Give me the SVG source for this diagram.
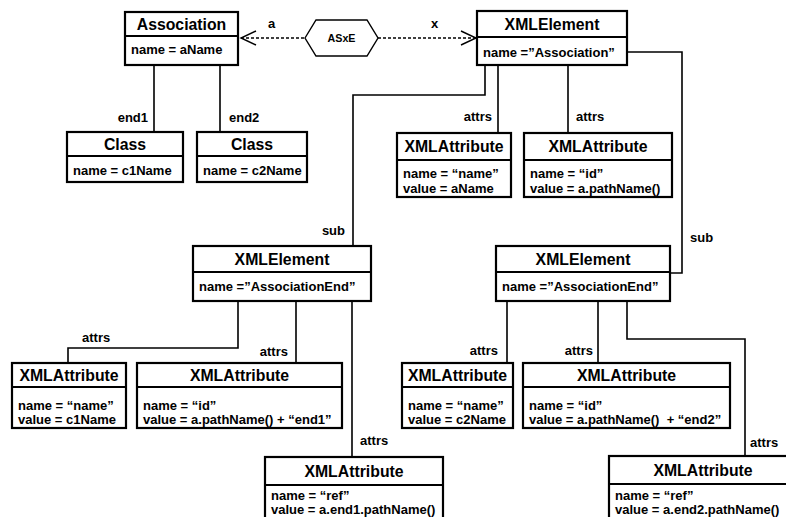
<svg xmlns="http://www.w3.org/2000/svg" width="786" height="517" viewBox="0 0 786 517">
<style>
.box{fill:#fff;stroke:#000;stroke-width:2.2}
.div{stroke:#000;stroke-width:1.8}
.ttl{font-family:"Liberation Sans",Arial,sans-serif;font-weight:bold;font-size:15.8px;text-anchor:middle;fill:#000}
.att{font-family:"Liberation Sans",Arial,sans-serif;font-weight:bold;font-size:13px;fill:#000;white-space:pre}
.lbl{font-family:"Liberation Sans",Arial,sans-serif;font-weight:bold;font-size:13px;fill:#000}
.end{text-anchor:end}
.con{fill:none;stroke:#000;stroke-width:1.6}
.dot{fill:none;stroke:#000;stroke-width:1.4;stroke-dasharray:3 2}
.hd{fill:none;stroke:#000;stroke-width:1.4}
</style>
<g id="connectors">
<path class="con" d="M154 65V132M220 65V132"/>
<path class="con" d="M485 65V95H353V246"/>
<path class="con" d="M498 65V133M568 65V133"/>
<path class="con" d="M627 52H682V273H670"/>
<path class="con" d="M238 301V348H68V363"/>
<path class="con" d="M296 301V363M352 301V457"/>
<path class="con" d="M507 301V363M598 301V363"/>
<path class="con" d="M627 301V339H745V456"/>
<path class="dot" d="M241 38H305M378 38H476"/>
<path class="hd" d="M256 31L241 38L256 45M461 31L476 38L461 45"/>
<text class="lbl end" x="148" y="122">end1</text>
<text class="lbl" x="229" y="122">end2</text>
<text class="lbl" x="268" y="28">a</text>
<text class="lbl" x="431" y="28">x</text>
<text class="lbl end" x="345" y="235">sub</text>
<text class="lbl" x="690" y="242">sub</text>
<text class="lbl end" x="492" y="121">attrs</text>
<text class="lbl" x="576" y="121">attrs</text>
<text class="lbl" x="82" y="342">attrs</text>
<text class="lbl end" x="288" y="356">attrs</text>
<text class="lbl" x="360" y="445">attrs</text>
<text class="lbl end" x="498" y="355">attrs</text>
<text class="lbl end" x="593" y="355">attrs</text>
<text class="lbl" x="750" y="447">attrs</text>
</g>
<g id="asxe">
<polygon points="305,38 316,20 367,20 378,38 367,56 316,56" fill="#fff" stroke="#000" stroke-width="1.4"/>
<text x="341.5" y="42" font-family="Liberation Sans, Arial, sans-serif" font-weight="bold" font-size="10.7" text-anchor="middle">ASxE</text>
</g>
<g id="association">
<rect class="box" x="125" y="12" width="113" height="53"/>
<line class="div" x1="125" y1="36" x2="238" y2="36"/>
<text class="ttl" x="181.5" y="30">Association</text>
<text class="att" x="131" y="54">name = aName</text>
</g>
<g id="class1">
<rect class="box" x="67" y="132" width="116" height="50"/>
<line class="div" x1="67" y1="156" x2="183" y2="156"/>
<text class="ttl" x="125" y="150">Class</text>
<text class="att" x="73" y="175">name = c1Name</text>
</g>
<g id="class2">
<rect class="box" x="197" y="132" width="110" height="50"/>
<line class="div" x1="197" y1="156" x2="307" y2="156"/>
<text class="ttl" x="252" y="150">Class</text>
<text class="att" x="203" y="175">name = c2Name</text>
</g>
<g id="xmlelement-assoc">
<rect class="box" x="477" y="11" width="150" height="54"/>
<line class="div" x1="477" y1="37" x2="627" y2="37"/>
<text class="ttl" x="552" y="30">XMLElement</text>
<text class="att" x="483" y="57">name =”Association”</text>
</g>
<g id="attr-name-top">
<rect class="box" x="397" y="133" width="114" height="64"/>
<line class="div" x1="397" y1="160" x2="511" y2="160"/>
<text class="ttl" x="454" y="152">XMLAttribute</text>
<text class="att" x="403" y="178">name = “name”</text>
<text class="att" x="403" y="193">value = aName</text>
</g>
<g id="attr-id-top">
<rect class="box" x="524" y="133" width="148" height="64"/>
<line class="div" x1="524" y1="160" x2="672" y2="160"/>
<text class="ttl" x="598" y="152">XMLAttribute</text>
<text class="att" x="530" y="178">name = “id”</text>
<text class="att" x="530" y="193">value = a.pathName()</text>
</g>
<g id="xmlelement-end1">
<rect class="box" x="193" y="246" width="178" height="55"/>
<line class="div" x1="193" y1="272" x2="371" y2="272"/>
<text class="ttl" x="282" y="265">XMLElement</text>
<text class="att" x="199" y="291">name =”AssociationEnd”</text>
</g>
<g id="xmlelement-end2">
<rect class="box" x="496" y="246" width="174" height="55"/>
<line class="div" x1="496" y1="272" x2="670" y2="272"/>
<text class="ttl" x="583" y="265">XMLElement</text>
<text class="att" x="502" y="291">name =”AssociationEnd”</text>
</g>
<g id="attr-name-end1">
<rect class="box" x="12" y="363" width="114" height="65"/>
<line class="div" x1="12" y1="387" x2="126" y2="387"/>
<text class="ttl" x="69" y="381">XMLAttribute</text>
<text class="att" x="18" y="410">name = “name”</text>
<text class="att" x="18" y="424">value = c1Name</text>
</g>
<g id="attr-id-end1">
<rect class="box" x="137" y="363" width="205" height="65"/>
<line class="div" x1="137" y1="387" x2="342" y2="387"/>
<text class="ttl" x="239.5" y="381">XMLAttribute</text>
<text class="att" x="143" y="410">name = “id”</text>
<text class="att" x="143" y="424">value = a.pathName() + “end1”</text>
</g>
<g id="attr-ref-end1">
<rect class="box" x="265" y="457" width="178" height="70"/>
<line class="div" x1="265" y1="485" x2="443" y2="485"/>
<text class="ttl" x="354" y="477">XMLAttribute</text>
<text class="att" x="271" y="500">name = “ref”</text>
<text class="att" x="271" y="514">value = a.end1.pathName()</text>
</g>
<g id="attr-name-end2">
<rect class="box" x="402" y="363" width="111" height="65"/>
<line class="div" x1="402" y1="387" x2="513" y2="387"/>
<text class="ttl" x="457.5" y="381">XMLAttribute</text>
<text class="att" x="408" y="410">name = “name”</text>
<text class="att" x="408" y="424">value = c2Name</text>
</g>
<g id="attr-id-end2">
<rect class="box" x="523" y="363" width="207" height="65"/>
<line class="div" x1="523" y1="387" x2="730" y2="387"/>
<text class="ttl" x="626.5" y="381">XMLAttribute</text>
<text class="att" x="529" y="410">name = “id”</text>
<text class="att" x="529" y="424">value = a.pathName()  + “end2”</text>
</g>
<g id="attr-ref-end2">
<rect class="box" x="609" y="456" width="190" height="70"/>
<line class="div" x1="609" y1="484" x2="799" y2="484"/>
<text class="ttl" x="703" y="476">XMLAttribute</text>
<text class="att" x="615" y="500">name = “ref”</text>
<text class="att" x="615" y="514">value = a.end2.pathName()</text>
</g>
</svg>
